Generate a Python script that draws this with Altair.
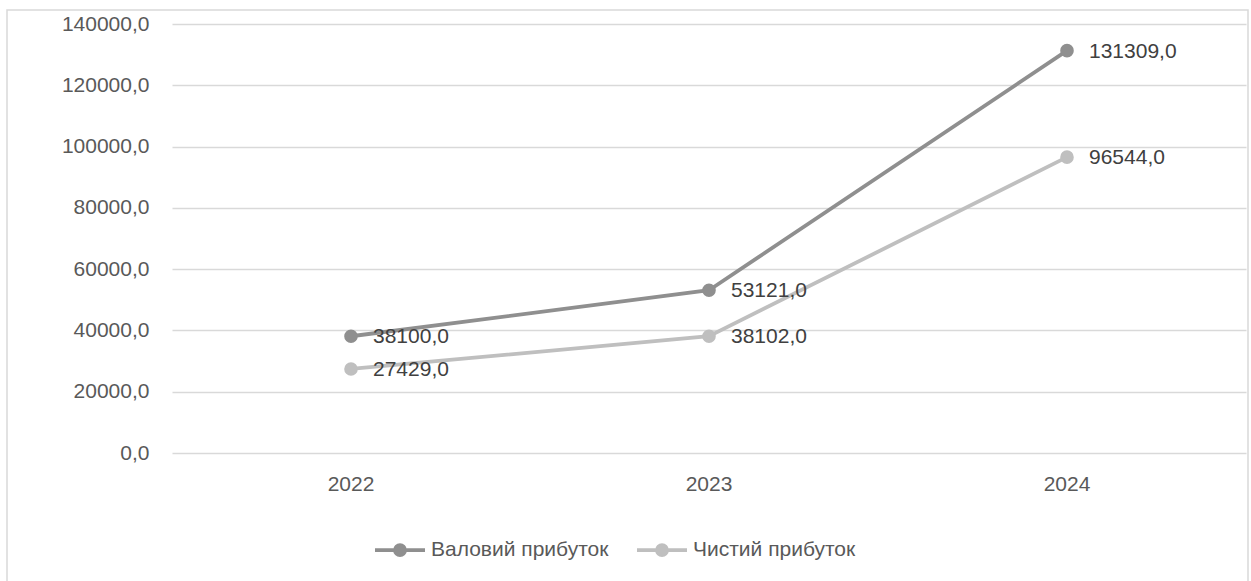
import altair as alt
import pandas as pd

# Profit figures by year
years = ["2022", "2023", "2024"]
series_names = ["Валовий прибуток", "Чистий прибуток"]
gross_profit = [38100.0, 53121.0, 131309.0]
net_profit = [27429.0, 38102.0, 96544.0]
y_ticks = [0, 20000, 40000, 60000, 80000, 100000, 120000, 140000]
series_colors = ["#8f8f8f", "#bfbfbf"]

rows = []
for name, values in zip(series_names, [gross_profit, net_profit]):
    for yr, v in zip(years, values):
        rows.append({"year": yr, "series": name, "value": v})
df = pd.DataFrame(rows)

FONT = "Liberation Sans"

# Legend glyph: a horizontal stroke with a solid dot in the middle
dot = "".join(
    f"M{r},0A{r},{r} 0 1,1 -{r},0A{r},{r} 0 1,1 {r},0Z" for r in (0.03, 0.09, 0.15, 0.2)
)
legend_symbol = "M-1,0L1,0" + dot

x_enc = alt.X(
    "year:N",
    sort=years,
    scale=alt.Scale(type="band", paddingInner=0, paddingOuter=0),
    axis=alt.Axis(
        title=None, domain=False, ticks=False, grid=False, labelAngle=0,
        labelFont=FONT, labelFontSize=21, labelColor="#595959", labelPadding=20,
    ),
)
y_enc = alt.Y(
    "value:Q",
    scale=alt.Scale(domain=[0, 140000], nice=False, zero=True),
    axis=alt.Axis(
        title=None, domain=False, ticks=False, values=y_ticks,
        labelExpr="replace(format(datum.value, '.1f'), '.', ',')",
        labelFont=FONT, labelFontSize=21, labelColor="#595959", labelPadding=23,
        grid=True, gridColor="#d9d9d9", gridWidth=1.4,
    ),
)
color_enc = alt.Color(
    "series:N",
    sort=series_names,
    scale=alt.Scale(domain=series_names, range=series_colors),
    legend=alt.Legend(
        title=None, orient="none", direction="horizontal",
        legendX=201, legendY=499, padding=0,
        symbolType=legend_symbol, symbolSize=2500, symbolStrokeWidth=3.8,
        symbolOpacity=1, labelFont=FONT, labelFontSize=21, labelColor="#595959",
        labelOffset=4, columnPadding=20, labelLimit=400,
    ),
)

base = alt.Chart(df)

lines = base.mark_line(
    strokeWidth=3.8,
    point=alt.OverlayMarkDef(filled=True, size=185, opacity=1),
).encode(x=x_enc, y=y_enc, color=color_enc)

labels = base.mark_text(
    align="left", baseline="middle", dx=22, dy=1,
    font=FONT, fontSize=21, color="#404040",
).transform_calculate(
    label="replace(format(datum.value, '.1f'), '.', ',')"
).encode(x=alt.X("year:N", sort=years), y="value:Q", text="label:N")

# Outer chart frame
frame = alt.Chart(pd.DataFrame({"f": [0]})).mark_rect(
    fill=None, stroke="#d9d9d9", strokeWidth=1.5
).encode(
    x=alt.value(-165), x2=alt.value(1076), y=alt.value(-14), y2=alt.value(600)
)

chart = alt.layer(frame, lines, labels).properties(
    width=1074,
    height=429,
    autosize=alt.AutoSizeParams(type="none"),
    padding={"left": 172, "top": 24, "right": 5, "bottom": 128},
    background="white",
).configure_view(stroke=None)

chart.save("out.html", embed_options={"renderer": "svg", "actions": False})
